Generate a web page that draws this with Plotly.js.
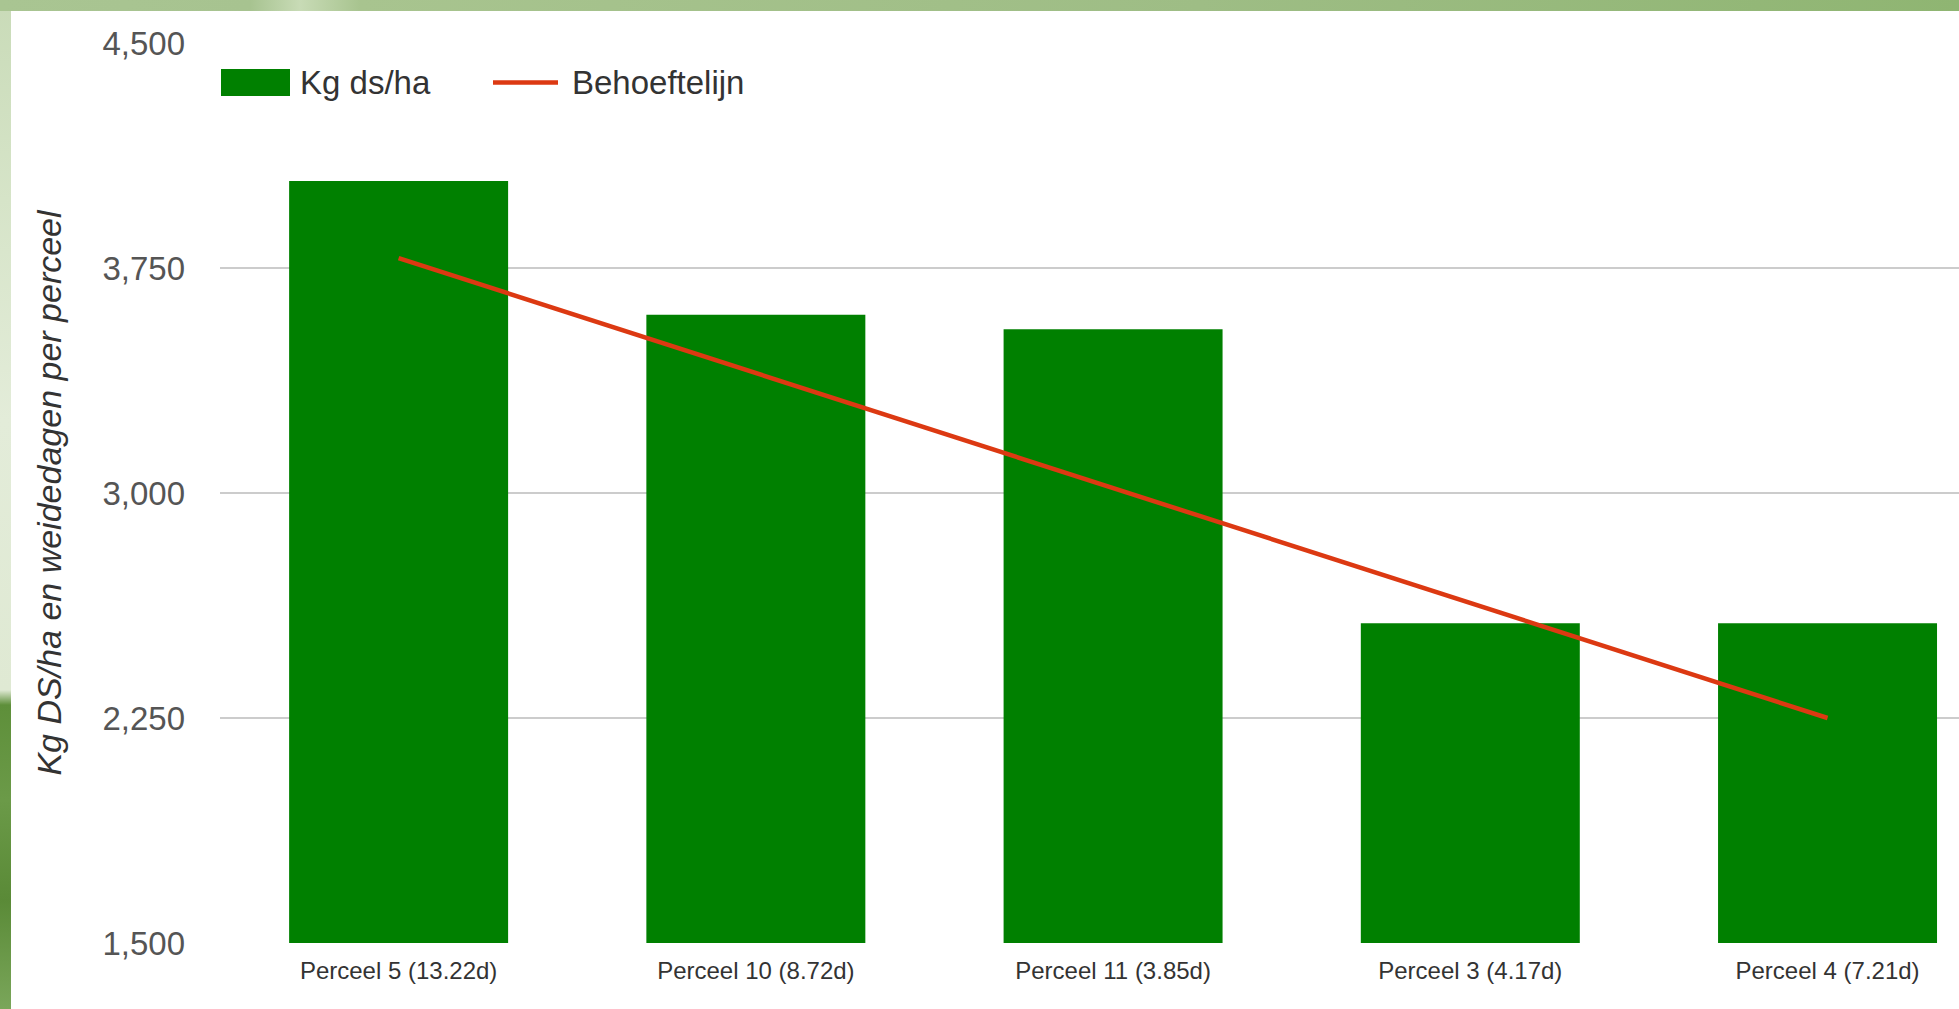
<!DOCTYPE html>
<html>
<head>
<meta charset="utf-8">
<script src="https://cdn.plot.ly/plotly-3.0.1.min.js"></script>
<style>
  html, body { margin: 0; padding: 0; width: 1959px; height: 1009px; overflow: hidden; }
  body {
    background:
      linear-gradient(to bottom, #c9dbb8 0px, #d6e4c8 200px, #e3ecd9 420px, #dfe9d3 690px, #5e8f3a 705px, #6b9a48 800px, #5a8a37 900px, #7aa65a 1009px);
  }
  #topband { position: absolute; left: 0; top: 0; width: 1959px; height: 11px;
    background: linear-gradient(to right, #a9c592 0, #a7c390 250px, #c8dbb6 300px, #a8c48f 360px, #9ebd85 1200px, #8fb572 1959px); }
  #chart { position: absolute; left: 11px; top: 11px; width: 1948px; height: 998px; background: #fff; }
</style>
</head>
<body>
<div id="topband"></div>
<div id="chart"></div>
<script>
// ---- data ----
const categories = ["Perceel 5 (13.22d)", "Perceel 10 (8.72d)", "Perceel 11 (3.85d)", "Perceel 3 (4.17d)", "Perceel 4 (7.21d)"];
const kgDsHa = [4040, 3594, 3546, 2566, 2566];
const behoeftelijn = [3783, 3400, 3017, 2633, 2250];
const seriesNames = ["Kg ds/ha", "Behoeftelijn"];
const yTickVals = [1500, 2250, 3000, 3750, 4500];
const yTitle = "Kg DS/ha en weidedagen per perceel";

const barColor = "#008000";
const lineColor = "#dc3912";
const font = "Liberation Sans, Arial, sans-serif";

const traces = [
  { type: "bar", x: categories, y: kgDsHa, name: seriesNames[0],
    marker: { color: barColor }, hoverinfo: "x+y" },
  { type: "scatter", mode: "lines", x: categories, y: behoeftelijn, name: seriesNames[1],
    line: { color: lineColor, width: 4.5 } }
];

// plot area in page pixels: left 220, right 1959, top 43, bottom 943
const pw = 1739, ph = 900;
const px = v => (v - 220) / pw;
const py = v => (943 - v) / ph;

const layout = {
  width: 1948, height: 998,
  margin: { l: 209, r: 0, t: 32, b: 66, pad: 0 },
  paper_bgcolor: "#ffffff", plot_bgcolor: "#ffffff",
  font: { family: font, color: "#444" },
  showlegend: false,
  bargap: 0.387,
  xaxis: {
    type: "category",
    range: [-0.5, 4.368],
    showgrid: false, zeroline: false, showline: false,
    ticks: "", tickfont: { size: 24, color: "#333" },
    ticklabelstandoff: 11,
    fixedrange: true
  },
  yaxis: {
    range: [1500, 4500],
    tickvals: yTickVals, tickformat: ",",
    showgrid: true, gridcolor: "#cccccc", gridwidth: 2,
    zeroline: false, showline: false, ticks: "",
    tickfont: { size: 33, color: "#555" },
    ticklabelstandoff: 34,
    title: { text: yTitle, font: { size: 34, color: "#333", style: "italic" }, standoff: 30 },
    fixedrange: true
  },
  shapes: [
    { type: "rect", xref: "paper", yref: "paper",
      x0: px(221), x1: px(290), y0: py(96), y1: py(69),
      fillcolor: barColor, line: { width: 0 } },
    { type: "line", xref: "paper", yref: "paper",
      x0: px(493), x1: px(558), y0: py(82.5), y1: py(82.5),
      line: { color: lineColor, width: 4.5 } }
  ],
  annotations: [
    { xref: "paper", yref: "paper", x: px(298), y: py(83), xanchor: "left", yanchor: "middle",
      text: seriesNames[0], showarrow: false, font: { size: 33, color: "#333", family: font } },
    { xref: "paper", yref: "paper", x: px(570), y: py(83), xanchor: "left", yanchor: "middle",
      text: seriesNames[1], showarrow: false, font: { size: 33, color: "#333", family: font } }
  ]
};

Plotly.newPlot("chart", traces, layout, { displayModeBar: false, staticPlot: true });
</script>
</body>
</html>
